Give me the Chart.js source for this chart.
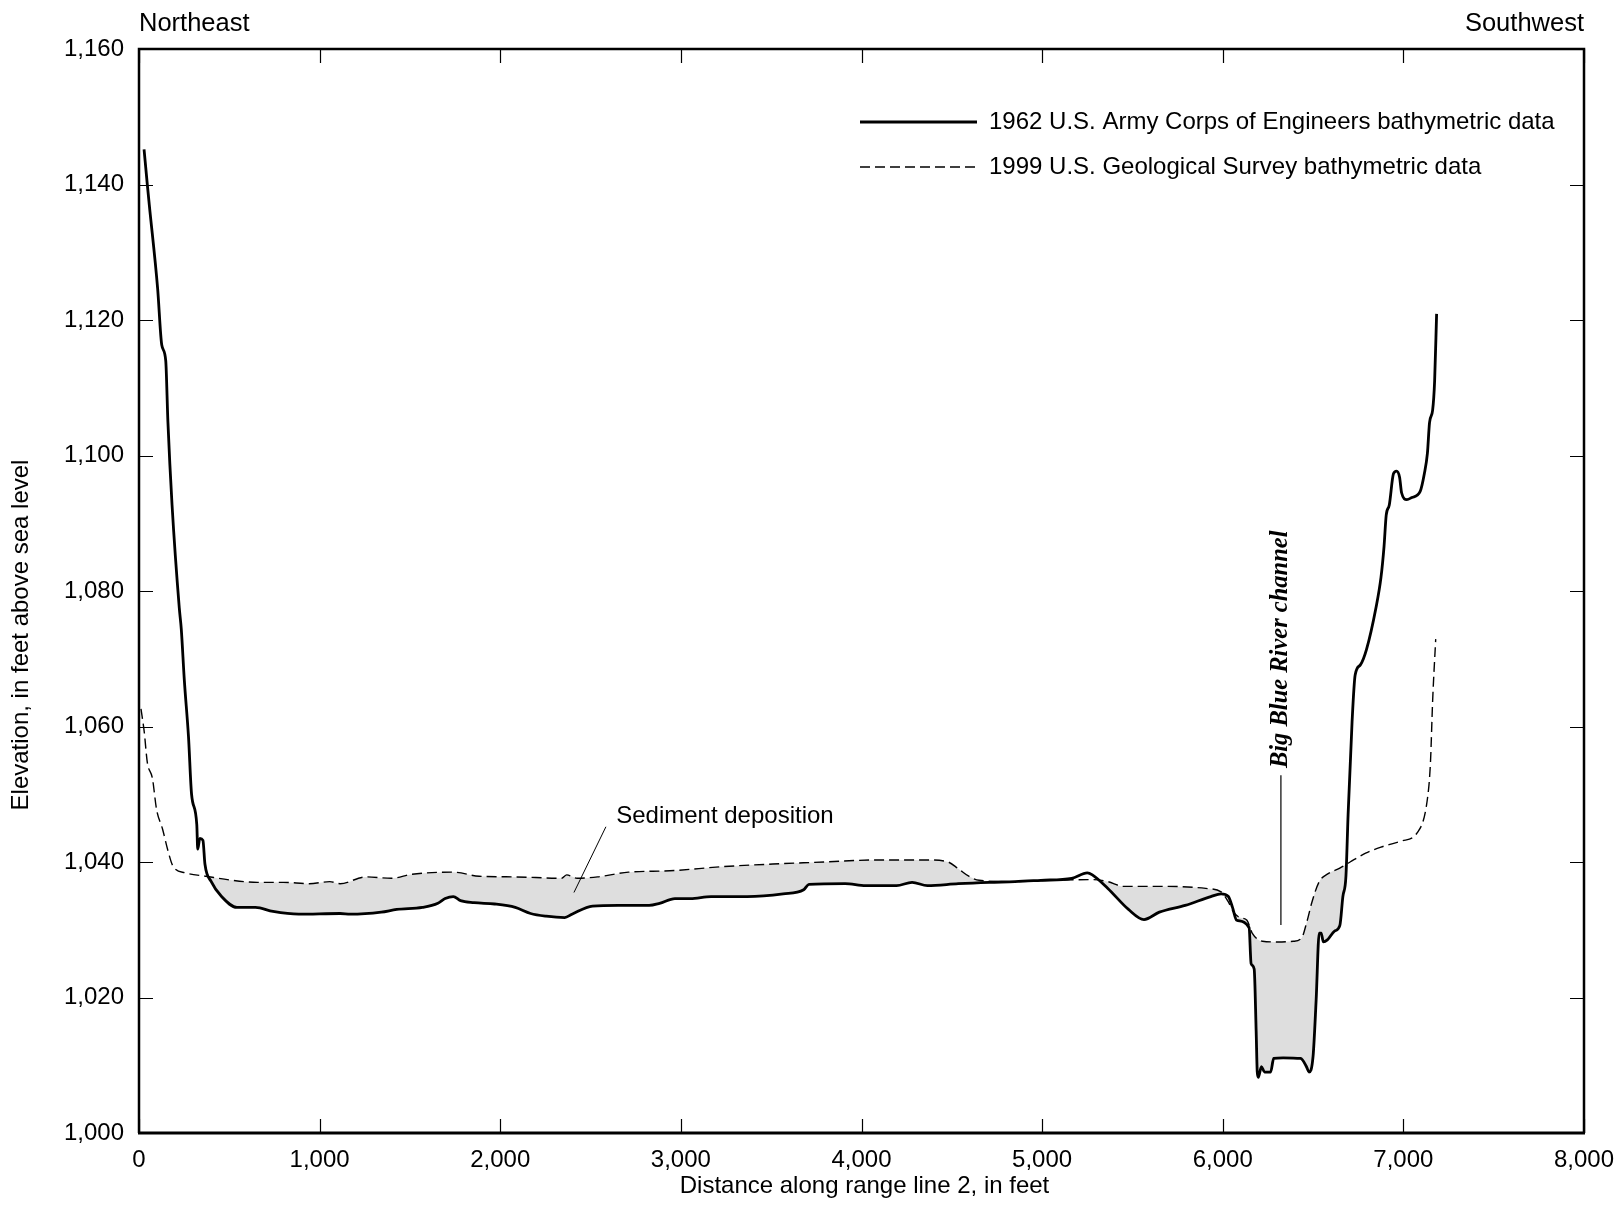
<!DOCTYPE html>
<html lang="en">
<head>
    <meta charset="UTF-8">
    <title>Range line 2 cross section</title>
    <script src="https://cdn.jsdelivr.net/npm/chart.js"></script>
    <style>
        body { margin: 0; background: #fff; }
        canvas { display: block; }
    </style>
</head>
<body>
    <canvas id="rangeChart" width="1616" height="1227"></canvas>
    <script>
        // 1962 U.S. Army Corps of Engineers survey (distance ft, elevation ft)
        const distance1962 = [28, 46, 57, 103, 126, 148, 160, 183, 223, 234, 251, 274, 291, 320, 325, 337, 354, 365, 400, 457,
            542, 645, 742, 884, 1113, 1170, 1341, 1427, 1569, 1655, 1695, 1740, 1780, 1855, 1969, 2083, 2168, 2254, 2357, 2397,
            2511, 2653, 2824, 2882, 2967, 3053, 3167, 3367, 3566, 3680, 3709, 3909, 4023, 4194, 4280, 4365, 4536, 4708, 4850, 4993,
            5164, 5250, 5278, 5364, 5478, 5564, 5649, 5792, 5934, 5991, 6031, 6054, 6077, 6146, 6157, 6174, 6185, 6191, 6197, 6214,
            6231, 6265, 6282, 6334, 6431, 6465, 6477, 6500, 6517, 6534, 6545, 6557, 6579, 6619, 6648, 6665, 6682, 6694, 6716, 6733,
            6762, 6796, 6848, 6876, 6893, 6905, 6922, 6945, 6962, 6979, 6990, 7019, 7047, 7093, 7116, 7133, 7145, 7162, 7173, 7184];
        const elevation1962 = [1145.2, 1140, 1137, 1124.7, 1116.3, 1114, 1105, 1092.7, 1077.5, 1074.4, 1066.8, 1058.5, 1050, 1045.5, 1041.9, 1043.5, 1043.2, 1039.7, 1037.1, 1034.9,
            1033.3, 1033.3, 1032.7, 1032.3, 1032.4, 1032.3, 1032.6, 1033, 1033.3, 1033.9, 1034.6, 1034.9, 1034.3, 1034, 1033.8, 1033.3, 1032.4, 1032, 1031.8, 1032.3,
            1033.5, 1033.6, 1033.6, 1033.9, 1034.6, 1034.6, 1034.9, 1034.9, 1035.3, 1035.9, 1036.7, 1036.8, 1036.5, 1036.5, 1037, 1036.5, 1036.8, 1037, 1037.1, 1037.3,
            1037.6, 1038.4, 1038.1, 1036.1, 1033, 1031.5, 1032.6, 1033.6, 1034.9, 1035.3, 1034.9, 1033.3, 1031.4, 1030.3, 1025, 1024.2, 1015, 1009, 1008.2, 1009.8,
            1009, 1009, 1011, 1011.1, 1011, 1009.7, 1009, 1011.3, 1019.6, 1029.5, 1029.5, 1028.2, 1028.5, 1029.8, 1030.6, 1034.9, 1037.9, 1047, 1060.7, 1067.6,
            1069.1, 1071.4, 1077.5, 1082, 1086.6, 1091.2, 1092.7, 1097.3, 1097.7, 1096.8, 1094.5, 1093.5, 1093.8, 1094.7, 1097.3, 1100.3, 1104.9, 1106.7, 1111, 1120.9];

        // 1999 U.S. Geological Survey survey
        const distance1999 = [11, 29, 46, 74, 97, 131, 160, 188, 257, 371, 514, 656, 799, 942, 1056, 1113, 1255, 1398, 1512, 1740,
            1883, 2083, 2340, 2368, 2425, 2539, 2710, 2939, 3224, 3509, 3795, 4080, 4365, 4479, 4536, 4594, 4651, 4822, 5050, 5278,
            5364, 5450, 5506, 5678, 5906, 5991, 6031, 6060, 6094, 6134, 6163, 6220, 6305, 6391, 6437, 6465, 6494, 6534, 6579, 6648,
            6705, 6791, 6876, 6990, 7076, 7133, 7150, 7162, 7179];
        const elevation1999 = [1062.6, 1059.2, 1054.7, 1052.4, 1047.8, 1044.8, 1041.7, 1039.4, 1038.4, 1037.9, 1037.3, 1037, 1037, 1036.8, 1037.1, 1036.8, 1037.8, 1037.6, 1038.2, 1038.5,
            1037.9, 1037.8, 1037.6, 1038.1, 1037.6, 1037.8, 1038.5, 1038.7, 1039.3, 1039.7, 1040, 1040.3, 1040.3, 1040, 1039, 1037.9, 1037.3, 1037.1, 1037.3, 1037.4,
            1037.1, 1036.4, 1036.4, 1036.4, 1036.1, 1035.6, 1034.1, 1032.6, 1031.8, 1031.4, 1029.5, 1028.3, 1028.2, 1028.3, 1028.8, 1031.1, 1034.1, 1037.1, 1038.2, 1039.1,
            1040, 1041.3, 1042.2, 1043.1, 1044.3, 1049.3, 1054.7, 1063.8, 1072.9];

        const seriesLabels = ['1962 U.S. Army Corps of Engineers bathymetric data', '1999 U.S. Geological Survey bathymetric data'];
        const xRange = [0, 8000];
        const yRange = [1000, 1160];

        const FONT = "'Liberation Sans', Arial, sans-serif";
        const toPoints = (xs, ys) => xs.map((v, i) => ({ x: v, y: ys[i] }));
        const fmt = v => Number(v).toLocaleString('en-US');

        // frame, inward ticks, legend and labels
        const frameAndNotes = {
            id: 'frameAndNotes',
            afterDraw(chart) {
                const { ctx, chartArea: a, scales: { x, y } } = chart;
                ctx.save();
                ctx.strokeStyle = '#000';
                ctx.fillStyle = '#000';

                // ticks pointing into the plot on all four sides
                ctx.lineWidth = 1.2;
                const tl = 14;
                x.ticks.forEach(t => {
                    const px = Math.round(x.getPixelForValue(t.value)) + 0.5;
                    ctx.beginPath();
                    ctx.moveTo(px, a.top); ctx.lineTo(px, a.top + tl);
                    ctx.moveTo(px, a.bottom); ctx.lineTo(px, a.bottom - tl);
                    ctx.stroke();
                });
                y.ticks.forEach(t => {
                    const py = Math.round(y.getPixelForValue(t.value)) + 0.5;
                    ctx.beginPath();
                    ctx.moveTo(a.left, py); ctx.lineTo(a.left + tl, py);
                    ctx.moveTo(a.right, py); ctx.lineTo(a.right - tl, py);
                    ctx.stroke();
                });

                // frame
                ctx.lineWidth = 2.5;
                ctx.beginPath();
                ctx.moveTo(a.left, a.bottom); ctx.lineTo(a.left, a.top);
                ctx.lineTo(a.right, a.top); ctx.lineTo(a.right, a.bottom);
                ctx.stroke();
                ctx.lineWidth = 3;
                ctx.beginPath();
                ctx.moveTo(a.left - 1, a.bottom); ctx.lineTo(a.right + 1, a.bottom);
                ctx.stroke();

                // legend
                const lx0 = a.right - 724, lx1 = a.right - 607;
                ctx.font = '24px ' + FONT;
                ctx.textBaseline = 'middle';
                ctx.textAlign = 'left';
                ctx.lineWidth = 2.8;
                ctx.beginPath(); ctx.moveTo(lx0, a.top + 73); ctx.lineTo(lx1, a.top + 73); ctx.stroke();
                ctx.fillText(seriesLabels[0], lx1 + 12, a.top + 73);
                ctx.lineWidth = 1.4;
                ctx.setLineDash([10, 5]);
                ctx.beginPath(); ctx.moveTo(lx0, a.top + 118); ctx.lineTo(lx1, a.top + 118); ctx.stroke();
                ctx.setLineDash([]);
                ctx.fillText(seriesLabels[1], lx1 + 12, a.top + 118);

                // axis titles
                ctx.textAlign = 'center';
                ctx.fillText('Distance along range line 2, in feet', (a.left + a.right) / 2 + 3, 1186);
                ctx.save();
                ctx.translate(21, 635);
                ctx.rotate(-Math.PI / 2);
                ctx.fillText('Elevation, in feet above sea level', 0, 0);
                ctx.restore();

                // sediment deposition note
                ctx.textAlign = 'left';
                ctx.fillText('Sediment deposition', x.getPixelForValue(2642), y.getPixelForValue(1046.7));
                ctx.lineWidth = 1;
                ctx.beginPath();
                ctx.moveTo(x.getPixelForValue(2585), y.getPixelForValue(1045.2));
                ctx.lineTo(x.getPixelForValue(2408), y.getPixelForValue(1035.5));
                ctx.stroke();

                // direction labels
                ctx.font = '25.5px ' + FONT;
                ctx.fillText('Northeast', a.left, 24);
                ctx.textAlign = 'right';
                ctx.fillText('Southwest', a.right, 24);

                // channel note
                const cx = x.getPixelForValue(6322);
                ctx.lineWidth = 1.2;
                ctx.beginPath();
                ctx.moveTo(cx, y.getPixelForValue(1052.8));
                ctx.lineTo(cx, y.getPixelForValue(1030.7));
                ctx.stroke();
                ctx.save();
                ctx.translate(cx, y.getPixelForValue(1071.4));
                ctx.rotate(-Math.PI / 2);
                ctx.font = "italic bold 24.5px 'Liberation Serif', 'Times New Roman', serif";
                ctx.textAlign = 'center';
                ctx.fillText('Big Blue River channel', 0, 0);
                ctx.restore();

                ctx.restore();
            }
        };

        const chart = new Chart(document.getElementById('rangeChart'), {
            type: 'line',
            data: {
                datasets: [{
                    label: seriesLabels[0],
                    data: toPoints(distance1962, elevation1962),
                    borderColor: '#000',
                    borderWidth: 2.8,
                    pointRadius: 0,
                    cubicInterpolationMode: 'monotone',
                    fill: false
                }, {
                    label: seriesLabels[1],
                    data: toPoints(distance1999, elevation1999),
                    borderColor: '#000',
                    borderWidth: 1.4,
                    borderDash: [10, 5],
                    pointRadius: 0,
                    cubicInterpolationMode: 'monotone',
                    fill: { target: 0, above: '#dedede', below: 'rgba(0,0,0,0)' }
                }]
            },
            options: {
                responsive: false,
                animation: false,
                layout: { padding: { top: 49, right: 32, left: 0, bottom: 0 } },
                plugins: {
                    legend: { display: false },
                    tooltip: { enabled: false }
                },
                scales: {
                    x: {
                        type: 'linear',
                        min: xRange[0],
                        max: xRange[1],
                        grid: { display: false },
                        border: { display: false },
                        ticks: {
                            stepSize: 1000,
                            maxRotation: 0,
                            padding: 5,
                            color: '#000',
                            font: { family: FONT, size: 24 },
                            callback: fmt
                        },
                        afterFit: s => { s.height = 94; s.paddingLeft = 0; s.paddingRight = 0; }
                    },
                    y: {
                        min: yRange[0],
                        max: yRange[1],
                        grid: { display: false },
                        border: { display: false },
                        ticks: {
                            stepSize: 20,
                            padding: 7,
                            color: '#000',
                            font: { family: FONT, size: 24 },
                            callback: fmt
                        },
                        afterFit: s => { s.width = 139; s.paddingTop = 0; s.paddingBottom = 0; }
                    }
                }
            },
            plugins: [frameAndNotes]
        });
    </script>
</body>
</html>
